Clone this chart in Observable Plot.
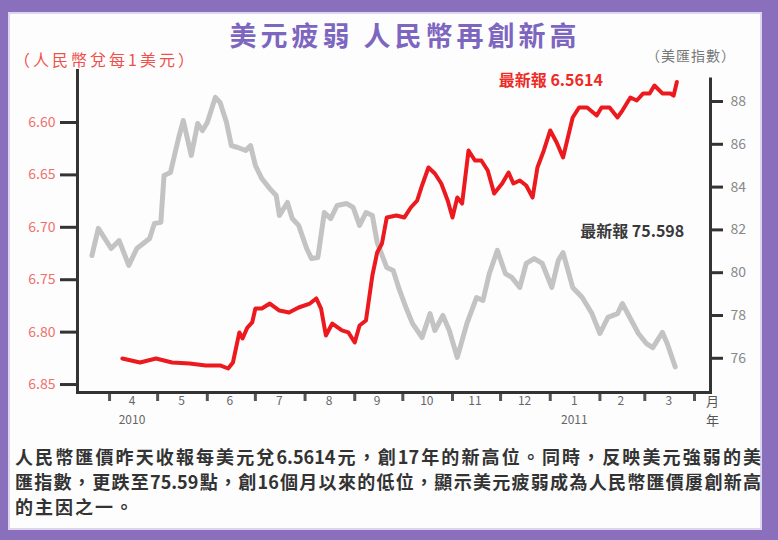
<!DOCTYPE html>
<html>
<head>
<meta charset="utf-8">
<script src="https://cdn.jsdelivr.net/npm/d3@7"></script>
<script src="https://cdn.jsdelivr.net/npm/@observablehq/plot@0.6"></script>
<style>
  html, body { margin: 0; padding: 0; }
  body { width: 778px; height: 540px; overflow: hidden; font-family: "Noto Sans CJK TC", "Noto Sans", sans-serif; }
  #frame { position: relative; width: 778px; height: 540px; background: #8a70bc; overflow: hidden; }
  #panel { position: absolute; left: 8px; top: 12px; width: 754px; height: 518px; background: #fdfdfe; box-shadow: inset 0 0 0 2px #ddd5ee; }
  #title { position: absolute; left: 200px; width: 410px; top: 19px; text-align: center; font-size: 27px; line-height: 32px; font-weight: 700; color: #7d66bf; letter-spacing: 4px; white-space: nowrap; }
  #ylabL { position: absolute; left: 14px; top: 48px; font-size: 16px; line-height: 22px; color: #f0504a; letter-spacing: 3px; white-space: nowrap; }
  #ylabR { position: absolute; left: 646px; top: 44px; font-size: 14px; line-height: 22px; color: #777; letter-spacing: 1px; white-space: nowrap; }
  #chart { position: absolute; left: 0; top: 0; }
  #caption { position: absolute; left: 15px; top: 444px; width: 746px; font-size: 18px; line-height: 25px; font-weight: 700; color: #333; }
  #caption div { text-align: justify; text-align-last: justify; white-space: nowrap; }
  #caption div.last { text-align-last: left; letter-spacing: 2px; }
</style>
</head>
<body>
<div id="frame">
  <div id="panel"></div>
  <div id="title"></div>
  <div id="ylabL">（人民幣兌每1美元）</div>
  <div id="ylabR">（美匯指數）</div>
  <div id="chart"></div>
  <div id="caption"></div>
</div>
<script>
// ---- data ----
const cnyDates = ["2010-04-09","2010-04-20","2010-04-30","2010-05-10","2010-05-21","2010-05-31","2010-06-09","2010-06-14","2010-06-17","2010-06-21","2010-06-23","2010-06-26","2010-06-29","2010-07-01","2010-07-05","2010-07-10","2010-07-16","2010-07-22","2010-07-28","2010-08-04","2010-08-08","2010-08-11","2010-08-14","2010-08-18","2010-08-24","2010-08-28","2010-09-01","2010-09-04","2010-09-08","2010-09-12","2010-09-15","2010-09-18","2010-09-21","2010-09-27","2010-10-02","2010-10-06","2010-10-10","2010-10-13","2010-10-17","2010-10-21","2010-10-25","2010-10-29","2010-11-01","2010-11-04","2010-11-07","2010-11-11","2010-11-15","2010-11-19","2010-11-23","2010-11-27","2010-12-02","2010-12-06","2010-12-09","2010-12-13","2010-12-17","2010-12-21","2010-12-24","2010-12-28","2011-01-01","2011-01-05","2011-01-09","2011-01-12","2011-01-15","2011-01-19","2011-01-24","2011-01-30","2011-02-02","2011-02-07","2011-02-12","2011-02-15","2011-02-20","2011-02-24","2011-02-28","2011-03-04","2011-03-07","2011-03-12","2011-03-17","2011-03-19","2011-03-21"];
const cnyValues = [6.8252,6.8290,6.8252,6.8290,6.8299,6.8318,6.8318,6.8347,6.8290,6.8003,6.8061,6.7956,6.7908,6.7775,6.7775,6.7727,6.7794,6.7813,6.7765,6.7727,6.7679,6.7775,6.8032,6.7918,6.7984,6.8003,6.8099,6.7937,6.7889,6.7460,6.7240,6.7154,6.6906,6.6887,6.6906,6.6811,6.6744,6.6601,6.6429,6.6487,6.6582,6.6744,6.6906,6.6716,6.6773,6.6267,6.6363,6.6363,6.6458,6.6677,6.6582,6.6477,6.6582,6.6553,6.6601,6.6716,6.6429,6.6267,6.6076,6.6191,6.6334,6.6143,6.5952,6.5857,6.5857,6.5933,6.5857,6.5857,6.5952,6.5886,6.5762,6.5790,6.5723,6.5723,6.5647,6.5723,6.5723,6.5743,6.5614];

const dxyDates = ["2010-03-21","2010-03-25","2010-04-02","2010-04-07","2010-04-13","2010-04-18","2010-04-26","2010-04-29","2010-05-03","2010-05-05","2010-05-09","2010-05-14","2010-05-17","2010-05-22","2010-05-26","2010-05-29","2010-06-01","2010-06-06","2010-06-09","2010-06-13","2010-06-16","2010-06-20","2010-06-25","2010-06-28","2010-07-01","2010-07-05","2010-07-10","2010-07-14","2010-07-16","2010-07-21","2010-07-24","2010-07-28","2010-08-02","2010-08-05","2010-08-09","2010-08-13","2010-08-17","2010-08-21","2010-08-27","2010-08-31","2010-09-04","2010-09-08","2010-09-12","2010-09-15","2010-09-21","2010-09-25","2010-09-29","2010-10-03","2010-10-07","2010-10-13","2010-10-18","2010-10-21","2010-10-26","2010-10-30","2010-11-04","2010-11-10","2010-11-16","2010-11-20","2010-11-24","2010-11-29","2010-12-04","2010-12-08","2010-12-13","2010-12-17","2010-12-22","2010-12-27","2011-01-02","2011-01-06","2011-01-09","2011-01-15","2011-01-21","2011-01-27","2011-02-01","2011-02-06","2011-02-12","2011-02-15","2011-02-20","2011-02-25","2011-03-02","2011-03-06","2011-03-12","2011-03-15","2011-03-20"];
const dxyValues = [80.80,82.07,81.13,81.50,80.34,81.13,81.60,82.30,82.35,84.54,84.68,86.27,87.11,85.48,86.97,86.64,87.02,88.19,87.95,87.02,85.94,85.85,85.71,85.94,85.01,84.40,83.93,83.61,82.67,83.28,82.53,82.21,81.13,80.66,80.71,82.81,82.53,83.14,83.23,83.05,82.21,82.81,82.67,81.41,80.24,80.10,79.17,78.37,77.63,76.97,78.09,77.30,78.00,77.30,76.04,77.63,78.84,78.70,79.96,81.04,79.96,79.78,79.31,80.43,80.66,80.43,79.31,80.57,80.94,79.31,78.84,78.09,77.16,77.91,78.09,78.56,77.86,77.16,76.69,76.50,77.21,76.69,75.60];

const leftTicks = [6.60, 6.65, 6.70, 6.75, 6.80, 6.85];
const rightTicks = [88, 86, 84, 82, 80, 78, 76];
const monthStarts = ["2010-04-01","2010-05-01","2010-06-01","2010-07-01","2010-08-01","2010-09-01","2010-10-01","2010-11-01","2010-12-01","2011-01-01","2011-02-01","2011-03-01","2011-04-01"];
const monthMids = ["2010-04-15","2010-05-16","2010-06-15","2010-07-16","2010-08-16","2010-09-15","2010-10-16","2010-11-15","2010-12-16","2011-01-16","2011-02-14","2011-03-16"];
const monthLabels = ["4","5","6","7","8","9","10","11","12","1","2","3"];
const yearMids = ["2010-04-15","2011-01-16"];
const yearLabels = ["2010","2011"];
const unitLabels = ["月","年"];

const titleText = "美元疲弱 人民幣再創新高";
const cnyNote = "最新報 6.5614";
const dxyNote = "最新報 75.598";
const captionLines = [
  "人民幣匯價昨天收報每美元兌6.5614元，創17年的新高位。同時，反映美元強弱的美",
  "匯指數，更跌至75.59點，創16個月以來的低位，顯示美元疲弱成為人民幣匯價屢創新高",
  "的主因之一。"
];

// ---- build ----
const P = d => new Date(d + "T00:00:00Z");
const xDomain = [P("2010-03-12"), P("2011-04-11")];
const yDomain = [6.5504, 6.8576];
// dollar index mapped onto the CNY scale (dual axis)
const dxyToY = d3.scaleLinear().domain([88, 76]).range([6.57997, 6.82496]);

const cny = cnyDates.map((d, i) => ({date: P(d), value: cnyValues[i]}));
const dxy = dxyDates.map((d, i) => ({date: P(d), value: dxyToY(dxyValues[i])}));
const lastCny = cny[cny.length - 1];
const lastDxy = dxy[dxy.length - 1];

const font = "'Noto Sans CJK TC', 'Noto Sans', sans-serif";

const chart = Plot.plot({
  width: 778,
  height: 440,
  marginLeft: 77,
  marginRight: 68,
  marginTop: 70,
  marginBottom: 48,
  style: {background: "transparent", fontFamily: font, overflow: "visible"},
  x: {type: "utc", domain: xDomain},
  y: {domain: yDomain, reverse: true},
  marks: [
    // data lines
    Plot.line(dxy, {x: "date", y: "value", stroke: "#c3c3c3", strokeWidth: 5}),
    Plot.line(cny, {x: "date", y: "value", stroke: "#ec1a1e", strokeWidth: 4}),
    // annotations
    Plot.text([lastCny], {x: "date", y: "value", text: [cnyNote], textAnchor: "end", dx: -74, dy: -1, fill: "#ee2b25", fontSize: 16, fontWeight: 700, style: "letter-spacing:1px"}),
    Plot.text([lastDxy], {x: "date", y: "value", text: [dxyNote], textAnchor: "end", dx: 9, dy: -135, fill: "#3a3a3a", fontSize: 16, fontWeight: 700}),
    // left axis
    Plot.axisY({anchor: "left", ticks: leftTicks, tickFormat: d3.format(".2f"), tickSize: 17, tickPadding: 5, stroke: "#333", strokeWidth: 3, fill: "#f0706a", fontSize: 14, label: null}),
    // right axis
    Plot.axisY({anchor: "right", ticks: rightTicks.map(dxyToY), tickFormat: v => String(Math.round(dxyToY.invert(v))), tickSize: 12, tickPadding: 8, stroke: "#333", strokeWidth: 3, fill: "#888", fontSize: 14, label: null}),
    // x axis: month boundary ticks, month numbers, years, unit
    Plot.axisX({ticks: monthStarts.map(P), tickFormat: () => "", tickSize: 9, stroke: "#555", strokeWidth: 3, label: null}),
    Plot.axisX({ticks: monthMids.map(P), tickFormat: d => monthLabels[monthMids.findIndex(m => +P(m) === +d)], tickSize: 0, tickPadding: 4, fill: "#666", fontSize: 12, label: null}),
    Plot.axisX({ticks: yearMids.map(P), tickFormat: d => yearLabels[yearMids.findIndex(m => +P(m) === +d)], tickSize: 0, tickPadding: 23, fill: "#666", fontSize: 12, label: null}),
    Plot.axisX({ticks: [xDomain[1]], tickFormat: () => unitLabels[0], tickSize: 0, tickPadding: 4, fill: "#555", fontSize: 13, dx: 2, label: null}),
    Plot.axisX({ticks: [xDomain[1]], tickFormat: () => unitLabels[1], tickSize: 0, tickPadding: 23, fill: "#555", fontSize: 13, dx: 2, label: null}),
    // frame lines
    Plot.frame({anchor: "left", stroke: "#333", strokeWidth: 3}),
    Plot.frame({anchor: "bottom", stroke: "#333", strokeWidth: 3}),
    Plot.ruleX([xDomain[1]], {y1: dxyToY(89.1), y2: yDomain[1], stroke: "#333", strokeWidth: 3})
  ]
});
document.getElementById("chart").appendChild(chart);
document.getElementById("title").textContent = titleText;
const cap = document.getElementById("caption");
captionLines.forEach((t, i) => {
  const div = document.createElement("div");
  div.textContent = t;
  if (i === captionLines.length - 1) div.className = "last";
  cap.appendChild(div);
});
</script>
</body>
</html>
